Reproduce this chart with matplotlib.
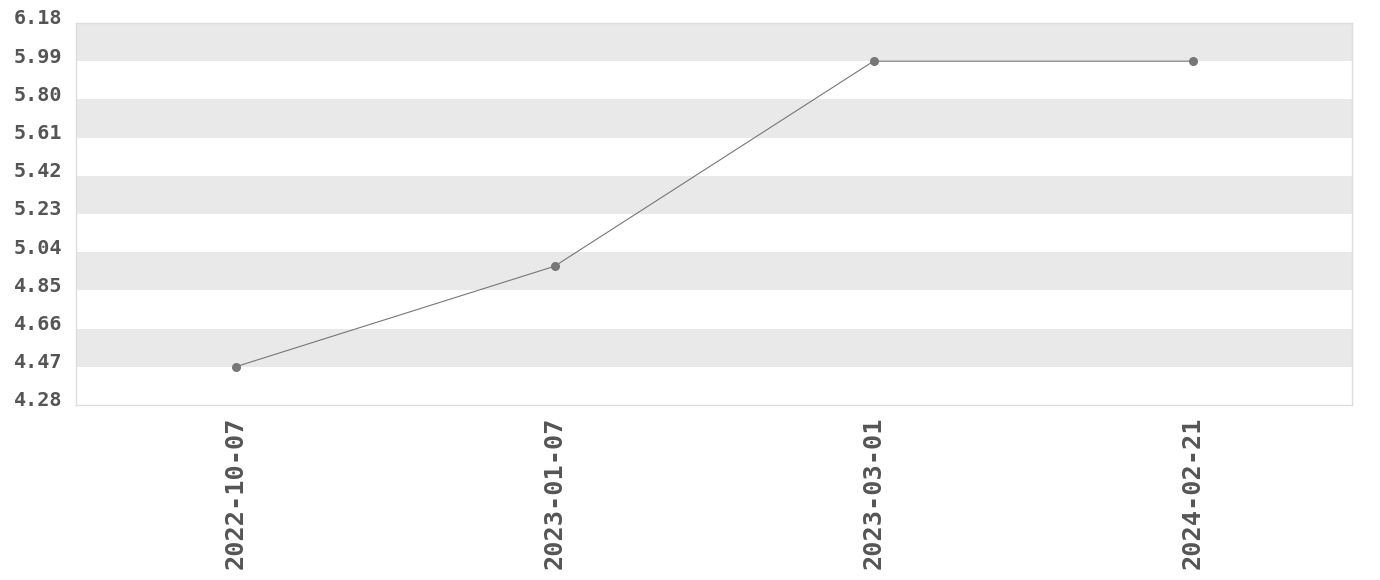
#!/usr/bin/env python3
import numpy as np
import matplotlib
matplotlib.use('Agg')
import matplotlib.pyplot as plt
import matplotlib.transforms as mtransforms

######################
# datos
######################
dates = ['2022-10-07', '2023-01-07', '2023-03-01', '2024-02-21']
values = [4.47, 4.97, 5.99, 5.99]
yticks = [4.28, 4.47, 4.66, 4.85, 5.04, 5.23, 5.42, 5.61, 5.80, 5.99, 6.18]

txt_color = '#555555'
fig = plt.figure(figsize=(13.8, 5.8), dpi=100)
ax = fig.add_axes([76/1380, 1 - 405/580, (1352-76)/1380, (405-23)/580])

# bandas alternas
for i in range(len(yticks) - 1):
    if (len(yticks) - 2 - i) % 2 == 0:
        ax.axhspan(yticks[i], yticks[i+1], color='#e9e9e9', lw=0, zorder=0)

x = np.arange(len(dates))
ax.plot(x, values, color='#777777', lw=0.8, marker='o', ms=5.5,
        mfc='#777777', mec='#777777', zorder=3)

ax.set_xlim(-0.5, len(dates) - 0.5)
ax.set_ylim(yticks[0], yticks[-1])
ax.set_yticks(yticks)
ax.set_yticklabels(['%.2f' % v for v in yticks])
ax.set_xticks(x)
ax.set_xticklabels(dates, rotation=90)

ax.tick_params(axis='both', length=0, colors=txt_color)
ax.tick_params(axis='y', pad=10, labelsize=14.5)
ax.tick_params(axis='x', pad=8, labelsize=18.2)
for lab in ax.get_yticklabels() + ax.get_xticklabels():
    lab.set_fontfamily('DejaVu Sans Mono')
    lab.set_fontweight('bold')
    lab.set_color(txt_color)
# etiquetas y un poco arriba
off = mtransforms.ScaledTranslation(0, 6/100, fig.dpi_scale_trans)
for lab in ax.get_yticklabels():
    lab.set_transform(lab.get_transform() + off)

for s in ax.spines.values():
    s.set_color('#dddddd')
    s.set_linewidth(1)

fig.savefig('out.png', dpi=100)
